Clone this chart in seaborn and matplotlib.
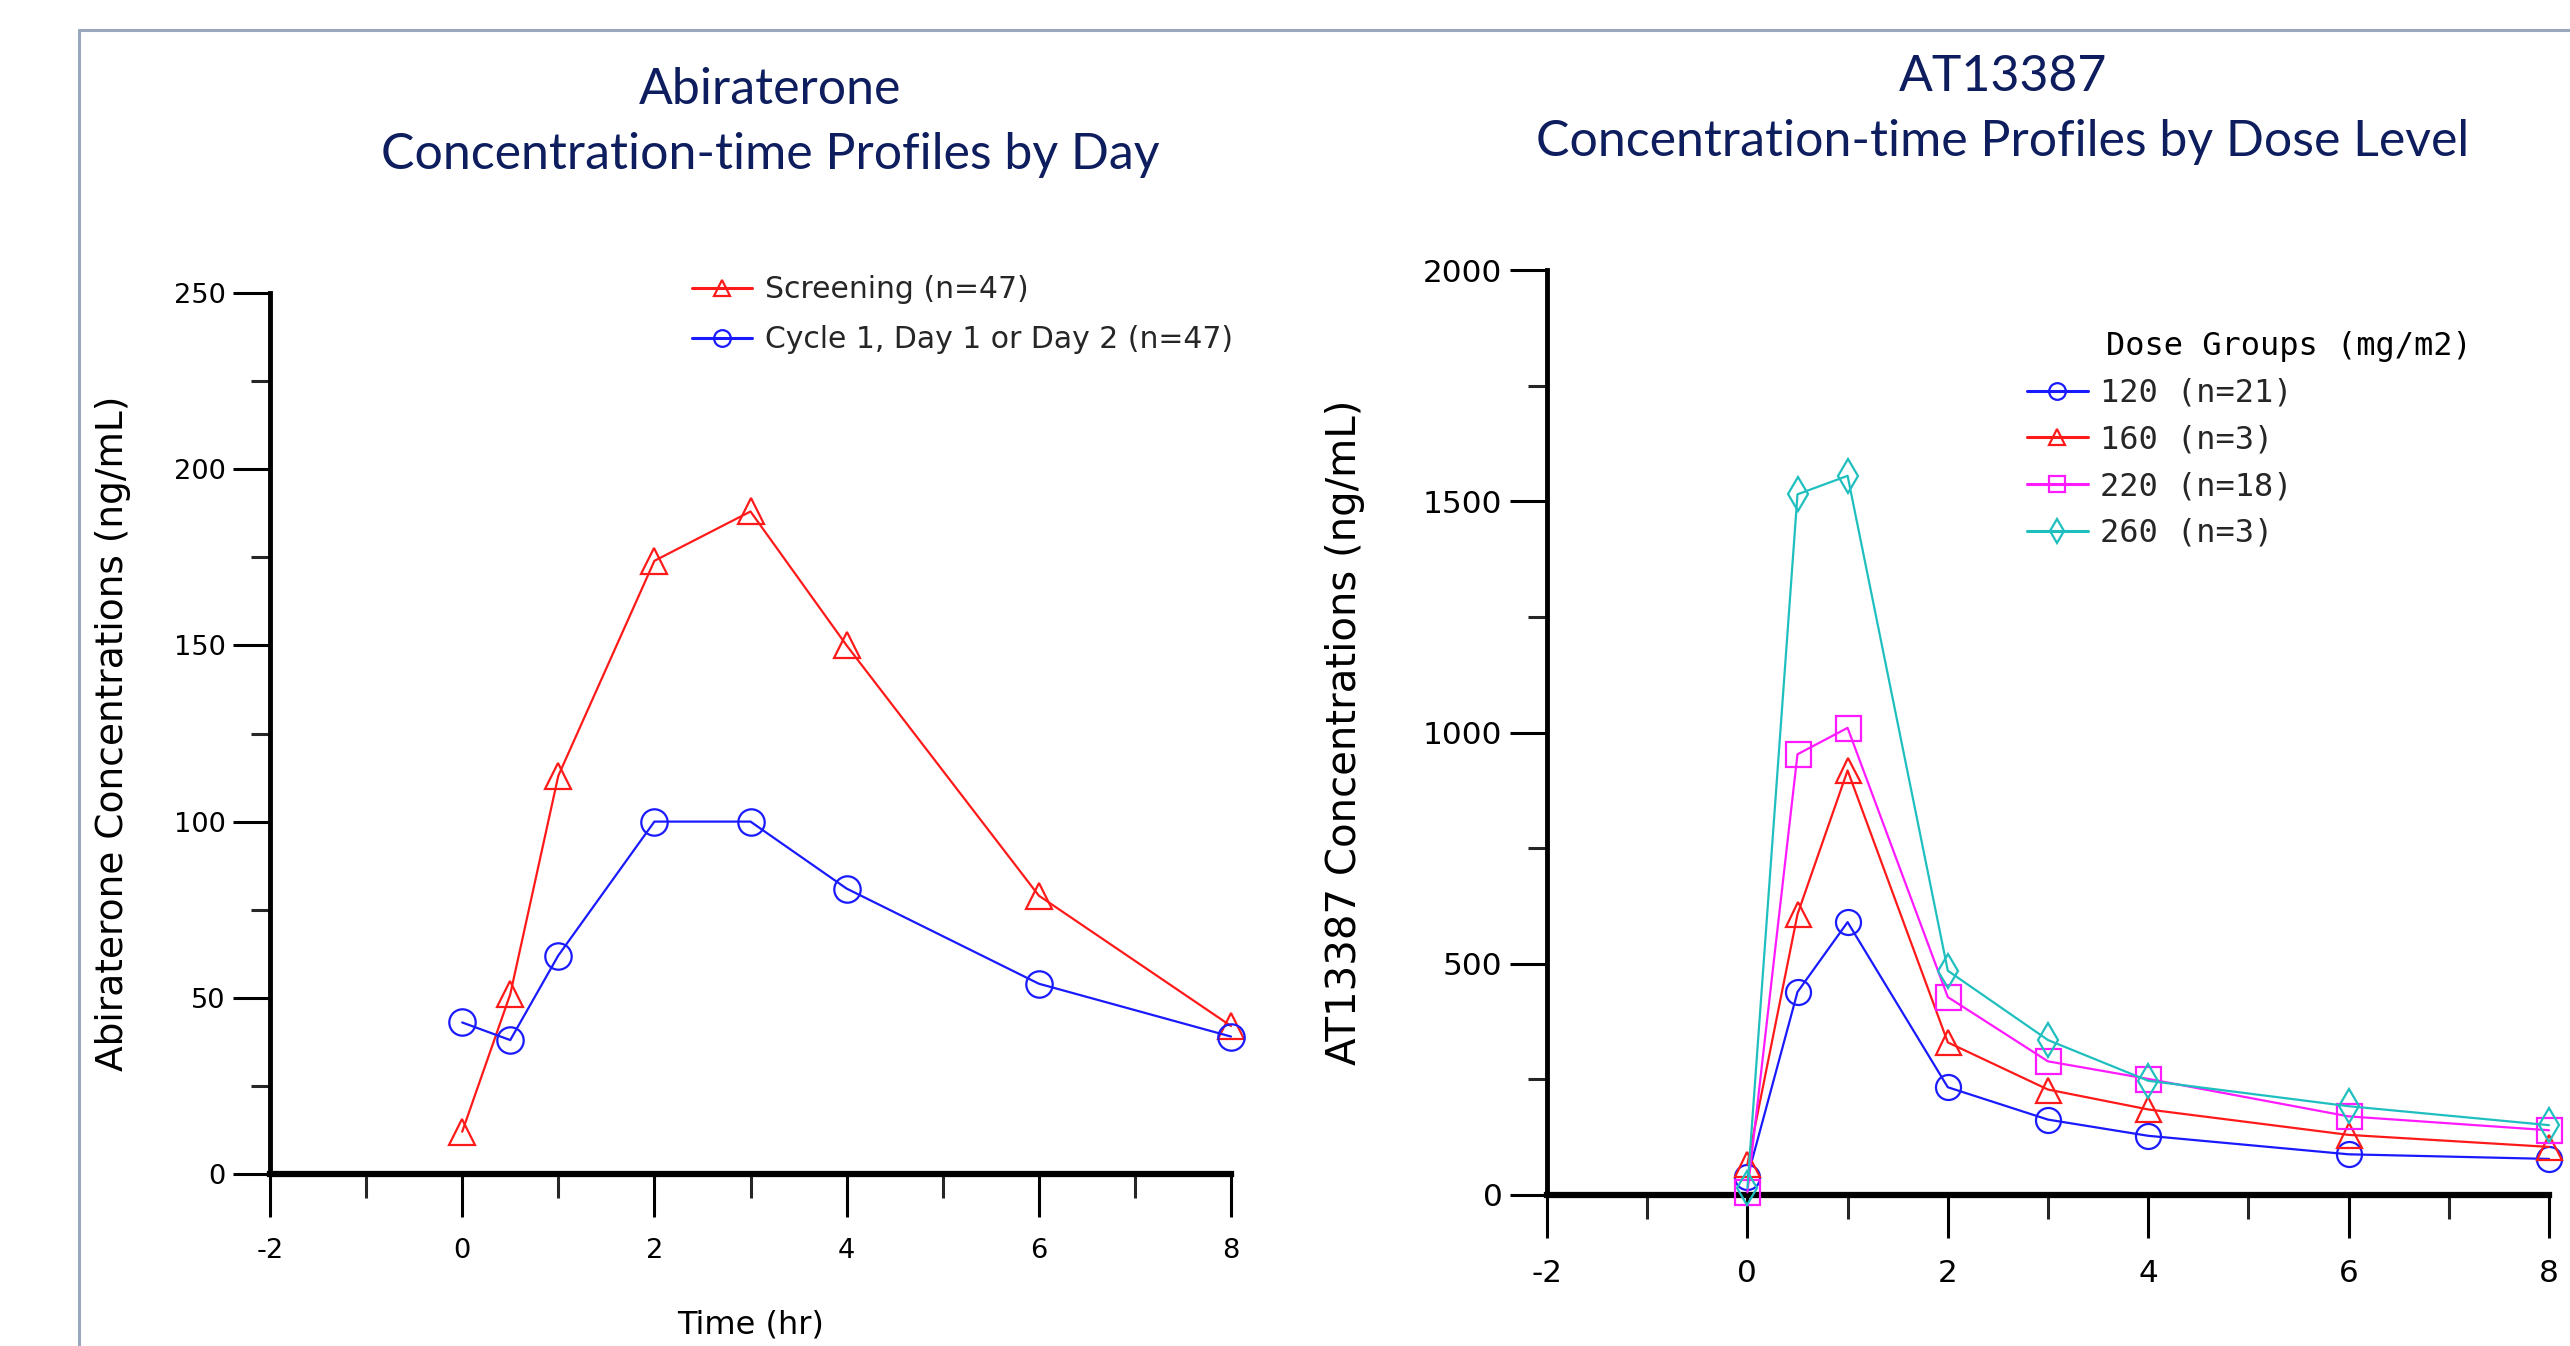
import numpy as np
import pandas as pd
import matplotlib
matplotlib.use("Agg")
import matplotlib.pyplot as plt
from matplotlib.lines import Line2D
from matplotlib.ticker import MultipleLocator
import seaborn as sns

# ---------------- data ----------------
time_left = [0, 0.5, 1, 2, 3, 4, 6, 8]
screening = [12, 51, 113, 174, 188, 150, 79, 42]
cycle1 = [43, 38, 62, 100, 100, 81, 54, 39]
left_groups = ["Screening (n=47)", "Cycle 1, Day 1 or Day 2 (n=47)"]

time_right = [0, 0.5, 1, 2, 3, 4, 6, 8]
dose120 = [38, 439, 590, 233, 163, 128, 88, 78]
dose160 = [66, 607, 918, 330, 228, 185, 130, 104]
dose220 = [6, 953, 1010, 428, 289, 251, 170, 140]
dose260 = [15, 1515, 1555, 485, 335, 247, 192, 151]
right_groups = ["120 (n=21)", "160 (n=3)", "220 (n=18)", "260 (n=3)"]

df_left = pd.DataFrame({
    "time": time_left * 2,
    "conc": screening + cycle1,
    "group": [left_groups[0]] * len(time_left) + [left_groups[1]] * len(time_left),
})
df_right = pd.DataFrame({
    "time": time_right * 4,
    "conc": dose120 + dose160 + dose220 + dose260,
    "group": sum([[g] * len(time_right) for g in right_groups], []),
})

# ---------------- style ----------------
sns.set_theme(style="white")
plt.rcParams["font.family"] = ["DejaVu Sans"]
plt.rcParams["axes.unicode_minus"] = False

W, H = 2570, 1346
fig = plt.figure(figsize=(W / 100, H / 100), dpi=100)

def fx(px):
    return px / W

def fy(py):
    return 1 - py / H

title_color = "#0d1d5e"
title_font = ["Lato", "Open Sans", "DejaVu Sans"]

left_pal = {left_groups[0]: "#ff1a1a", left_groups[1]: "#1a1aff"}
left_mk = {left_groups[0]: "^", left_groups[1]: "o"}
right_pal = {right_groups[0]: "#1a1aff", right_groups[1]: "#ff1a1a",
             right_groups[2]: "#ff1aff", right_groups[3]: "#1fbfbf"}
right_mk = {right_groups[0]: "o", right_groups[1]: "^",
            right_groups[2]: "s", right_groups[3]: "d"}

ax1 = fig.add_axes([fx(270), fy(1174), fx(1231 - 270), (1174 - 293) / H])
ax2 = fig.add_axes([fx(1547), fy(1195), fx(2549 - 1547), (1195 - 270) / H])

sns.lineplot(data=df_left, x="time", y="conc", hue="group", style="group",
             hue_order=left_groups, style_order=left_groups,
             palette=left_pal, markers=left_mk, dashes=False,
             markersize=19, linewidth=1.6, legend=False, ax=ax1,
             errorbar=None, sort=False, clip_on=False)
sns.lineplot(data=df_right, x="time", y="conc", hue="group", style="group",
             hue_order=right_groups, style_order=right_groups,
             palette=right_pal, markers=right_mk, dashes=False,
             markersize=18, linewidth=1.6, legend=False, ax=ax2,
             errorbar=None, sort=False, clip_on=False)

for ax in (ax1, ax2):
    for ln in ax.lines:
        c = ln.get_color()
        ln.set_markerfacecolor("none")
        ln.set_markeredgecolor(c)
        ln.set_markeredgewidth(1.6)
        ln.set_zorder(5)
    for ln in ax2.lines:
        if ln.get_marker() == "d":
            ln.set_markersize(17)

def style_axes(ax, ymax, ymaj, ymin, tick_fs, ylabel, ylab_fs, ylab_x, xlab_y):
    ax.set_xlim(-2, 8)
    ax.set_ylim(0, ymax)
    ax.xaxis.set_major_locator(MultipleLocator(2))
    ax.xaxis.set_minor_locator(MultipleLocator(1))
    ax.yaxis.set_major_locator(MultipleLocator(ymaj))
    ax.yaxis.set_minor_locator(MultipleLocator(ymin))
    ax.tick_params(axis="x", which="major", direction="out", length=31, width=2.2,
                   pad=15, labelsize=tick_fs, colors="black", bottom=True)
    ax.tick_params(axis="x", which="minor", direction="out", length=17, width=2.2,
                   bottom=True)
    ax.tick_params(axis="y", which="major", direction="out", length=27, width=2.2,
                   pad=5, labelsize=tick_fs, colors="black", left=True)
    ax.tick_params(axis="y", which="minor", direction="out", length=14, width=2.2,
                   left=True)
    for s in ("top", "right"):
        ax.spines[s].set_visible(False)
    ax.spines["left"].set_color("black")
    ax.spines["left"].set_linewidth(3.5)
    ax.spines["bottom"].set_color("black")
    ax.spines["bottom"].set_linewidth(4.5)
    ax.set_facecolor("white")
    ax.grid(False)
    ax.set_ylabel(ylabel, fontsize=ylab_fs, color="black")
    ax.yaxis.set_label_coords(ylab_x, 0.5)
    ax.set_xlabel("Time (hr)", fontsize=23, color="black")
    ax.xaxis.set_label_coords(0.5, xlab_y)

style_axes(ax1, 250, 50, 25, 19.6, "Abiraterone Concentrations (ng/mL)", 27, -0.145, -0.154)
style_axes(ax2, 2000, 500, 250, 22.4, "AT13387 Concentrations (ng/mL)", 29, -0.182, -0.164)

# ---------------- legends ----------------
def handles_for(ax, ms):
    hs = []
    for ln in ax.lines:
        hs.append(Line2D([], [], color=ln.get_color(), marker=ln.get_marker(),
                         markersize=ms, markerfacecolor="none",
                         markeredgecolor=ln.get_color(), markeredgewidth=1.6,
                         linewidth=2.2))
    return hs

leg1 = ax1.legend(handles_for(ax1, 12), left_groups, loc="upper left",
                  bbox_to_anchor=(fx(692), fy(275)), bbox_transform=fig.transFigure,
                  frameon=False, fontsize=21.5, handlelength=2.0, handletextpad=0.45,
                  labelspacing=0.72, borderpad=0, borderaxespad=0)

leg2 = ax2.legend(handles_for(ax2, 12), right_groups, loc="upper left",
                  bbox_to_anchor=(fx(2027), fy(378)), bbox_transform=fig.transFigure,
                  frameon=False, prop={"family": "DejaVu Sans Mono", "size": 23},
                  handlelength=1.9, handletextpad=0.4,
                  labelspacing=0.49, borderpad=0, borderaxespad=0)
fig.text(fx(2106), fy(347), "Dose Groups (mg/m2)", family="DejaVu Sans Mono",
         fontsize=23, color="black", ha="left", va="center")

# ---------------- titles ----------------
fig.text(fx(770), fy(90), "Abiraterone", ha="center", va="center",
         fontsize=36, color=title_color, family=title_font)
fig.text(fx(770), fy(155), "Concentration-time Profiles by Day", ha="center",
         va="center", fontsize=36, color=title_color, family=title_font)
fig.text(fx(2003), fy(77), "AT13387", ha="center", va="center",
         fontsize=36, color=title_color, family=title_font)
fig.text(fx(2003), fy(142), "Concentration-time Profiles by Dose Level",
         ha="center", va="center", fontsize=36, color=title_color, family=title_font)

# ---------------- frame ----------------
frame_c = "#9aa8bd"
fig.add_artist(Line2D([fx(79), 1.0], [fy(30), fy(30)], color=frame_c, linewidth=2.2))
fig.add_artist(Line2D([fx(79), fx(79)], [fy(30), 0.0], color=frame_c, linewidth=2.2))

fig.savefig("out.png", dpi=100, facecolor="white")
